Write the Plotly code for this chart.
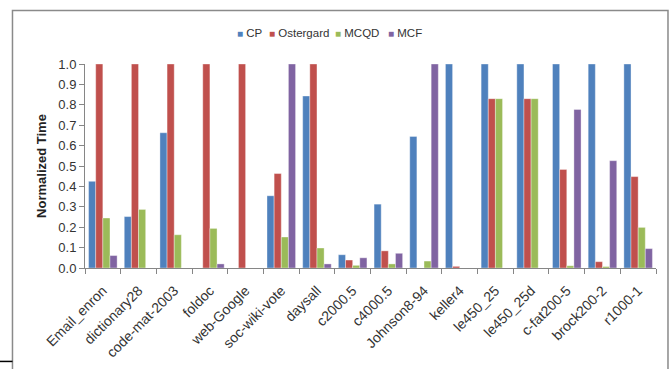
import plotly.graph_objects as go

categories = ["Email_enron", "dictionary28", "code-mat-2003", "foldoc", "web-Google",
              "soc-wiki-vote", "daysall", "c2000.5", "c4000.5", "Johnson8-94",
              "keller4", "le450_25", "le450_25d", "c-fat200-5", "brock200-2", "r1000-1"]
cp        = [0.425, 0.252, 0.663, 0.0, 0.0, 0.354, 0.843, 0.065, 0.313, 0.645, 1.0, 1.0, 1.0, 1.0, 1.0, 1.0]
ostergard = [1.0, 1.0, 1.0, 1.0, 1.0, 0.463, 1.0, 0.039, 0.084, 0.0, 0.008, 0.83, 0.83, 0.483, 0.031, 0.448]
mcqd      = [0.245, 0.287, 0.163, 0.194, 0.0, 0.152, 0.098, 0.013, 0.02, 0.034, 0.0, 0.83, 0.83, 0.011, 0.007, 0.199]
mcf       = [0.061, 0.0, 0.0, 0.02, 0.0, 1.0, 0.02, 0.05, 0.072, 1.0, 0.0, 0.0, 0.0, 0.777, 0.526, 0.095]
y_ticks = [0.0, 0.1, 0.2, 0.3, 0.4, 0.5, 0.6, 0.7, 0.8, 0.9, 1.0]

series_names = ["CP", "Ostergard", "MCQD", "MCF"]
series_values = [cp, ostergard, mcqd, mcf]
series_colors = ["#4F81BD", "#C0504D", "#9BBB59", "#8064A2"]
legend_x = [0.262, 0.319, 0.434, 0.527]  # legend entry positions (paper coords)

FONT = "Liberation Sans, Arial, sans-serif"
fig = go.Figure()
for name, vals, col in zip(series_names, series_values, series_colors):
    fig.add_trace(go.Bar(x=categories, y=vals, name=name, marker_color=col,
                         marker_line_color="rgba(255,255,255,0.6)", marker_line_width=0.6,
                         showlegend=False))

annotations = []
for name, col, lx in zip(series_names, series_colors, legend_x):
    annotations.append(dict(
        xref="paper", yref="paper", x=lx, y=1.152, xanchor="left", yanchor="middle",
        showarrow=False,
        text=f"<span style='color:{col};font-size:10px'>■</span> {name}",
        font=dict(family=FONT, size=11.5, color="#333")))

fig.update_layout(
    width=672, height=369,
    margin=dict(l=85, r=16, t=64, b=101, autoexpand=False),
    paper_bgcolor="white", plot_bgcolor="white",
    barmode="group", bargap=0.2, bargroupgap=0,
    font=dict(family=FONT, size=12, color="#333"),
    showlegend=False,
    annotations=annotations,
    xaxis=dict(type="category", showline=True, linecolor="#868686", linewidth=1,
               ticks="outside", tickson="boundaries", ticklen=5, tickcolor="#868686",
               tickangle=-45, tickfont=dict(size=14, color="#333"), showgrid=False,
               ticklabelstandoff=8, automargin=False),
    yaxis=dict(range=[0, 1.0], tickvals=y_ticks, tickformat=".1f", showline=True,
               linecolor="#868686", linewidth=1, ticks="outside", ticklen=5,
               tickcolor="#868686", showgrid=False, zeroline=False, automargin=False,
               tickfont=dict(size=13, color="#333"),
               title=dict(text="<b>Normalized Time</b>", font=dict(size=13, color="#222"),
                          standoff=8)),
    shapes=[
        dict(type="rect", xref="paper", yref="paper", x0=-0.127, x1=1.021, y0=-0.55, y1=1.262,
             line=dict(color="#8a8a8a", width=1.5), fillcolor="rgba(0,0,0,0)", layer="above"),
        dict(type="line", xref="paper", yref="paper", x0=-0.16, x1=-0.127, y0=-0.458, y1=-0.458,
             line=dict(color="black", width=1.5), layer="above"),
    ],
)

fig.write_html("out.html", config={"displayModeBar": False},
               post_script="document.body.style.margin='0';window.dispatchEvent(new Event('resize'));")
